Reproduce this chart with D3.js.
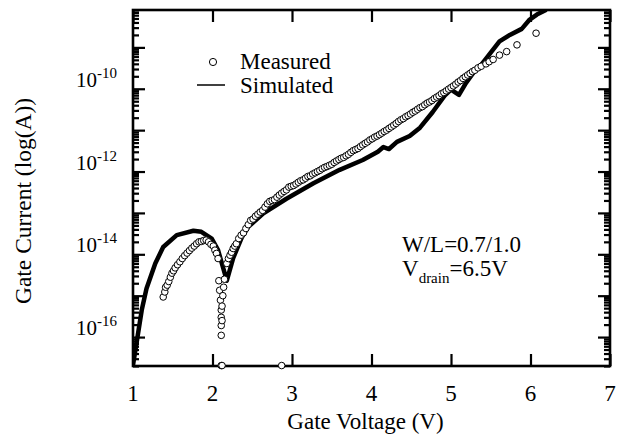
<!DOCTYPE html>
<html>
<head>
<meta charset="utf-8">
<script src="https://cdn.jsdelivr.net/npm/d3@7"></script>
<style>
  html, body { margin: 0; padding: 0; background: #fff; }
  svg { display: block; font-family: "Liberation Serif", "Times New Roman", serif; }
</style>
</head>
<body>
<svg id="chart" width="619" height="437"></svg>
<script>
// ---------------- data ----------------
const xTicks = [1, 2, 3, 4, 5, 6, 7];
const yLabelExps = [-16, -14, -12, -10];

// Simulated gate current (A) vs gate voltage (V)
const simV = [1.00, 1.05, 1.11, 1.17, 1.28, 1.38, 1.55, 1.76, 1.86, 1.99, 2.07, 2.18, 2.26, 2.37, 2.45,
  2.64, 2.93, 3.27, 3.60, 3.89, 4.08, 4.15, 4.22, 4.32, 4.48, 4.61, 4.77, 4.92, 5.00, 5.10, 5.18,
  5.30, 5.38, 5.49, 5.61, 5.74, 5.89, 5.99, 6.08, 6.20];
const simI = [2.1e-17, 8.3e-17, 4.5e-16, 1.5e-15, 6.0e-15, 1.5e-14, 2.9e-14, 3.7e-14, 3.5e-14, 2.4e-14, 1.26e-14, 2.3e-15, 8.1e-15, 2.6e-14, 4.6e-14,
  9.8e-14, 2.2e-13, 5.2e-13, 1.1e-12, 1.9e-12, 3.0e-12, 3.9e-12, 3.5e-12, 5.2e-12, 7.2e-12, 1.15e-11, 2.75e-11, 6.8e-11, 9.5e-11, 7.1e-11, 1.3e-10,
  2.75e-10, 3.8e-10, 7.1e-10, 1.4e-9, 2.0e-9, 2.8e-9, 4.7e-9, 6.2e-9, 8.1e-9];

// Measured gate current (A) vs gate voltage (V)
const measV = [1.38, 1.40, 1.41, 1.43, 1.45, 1.47, 1.49, 1.51, 1.53, 1.56, 1.59, 1.62, 1.65, 1.68, 1.71, 1.74, 1.77,
  1.80, 1.83, 1.86, 1.89, 1.92, 1.95, 1.98, 2.01, 2.03, 2.05, 2.07,
  2.08, 2.09, 2.10, 2.11, 2.11, 2.11, 2.11, 2.12, 2.12, 2.13, 2.14, 2.15, 2.11, 2.12, 2.87,
  2.18, 2.20, 2.22, 2.24, 2.26, 2.28, 2.30, 2.33, 2.36, 2.39, 2.42, 2.45, 2.48, 2.51, 2.54, 2.57,
  2.60, 2.63, 2.66, 2.69, 2.72, 2.75, 2.78, 2.81, 2.84, 2.87, 2.90, 2.93, 2.96, 2.99,
  3.02, 3.05, 3.08, 3.11, 3.14, 3.17, 3.20, 3.23, 3.26, 3.29, 3.32, 3.35, 3.38, 3.41, 3.44, 3.47,
  3.50, 3.53, 3.56, 3.59, 3.62, 3.65, 3.68, 3.71, 3.74, 3.77, 3.80, 3.83, 3.86, 3.89, 3.92, 3.95, 3.98,
  4.01, 4.04, 4.07, 4.10, 4.13, 4.16, 4.19, 4.22, 4.25, 4.28, 4.31, 4.34, 4.37, 4.40, 4.43, 4.46, 4.49,
  4.52, 4.55, 4.58, 4.61, 4.64, 4.67, 4.70, 4.73, 4.76, 4.79, 4.82, 4.85, 4.88, 4.91, 4.94, 4.97,
  5.00, 5.03, 5.06, 5.09, 5.12, 5.15, 5.18, 5.21, 5.24, 5.27, 5.30, 5.34, 5.38, 5.44, 5.48, 5.53,
  5.61, 5.70, 5.83, 6.07];
const measI = [9.3e-16, 1.23e-15, 1.6e-15, 1.8e-15, 2.2e-15, 2.8e-15, 3.5e-15, 4.0e-15, 4.7e-15, 5.6e-15, 6.6e-15, 7.9e-15, 9.3e-15, 1.07e-14, 1.23e-14, 1.41e-14, 1.58e-14,
  1.8e-14, 2.0e-14, 2.05e-14, 2.15e-14, 2.2e-14, 2.0e-14, 1.74e-14, 1.58e-14, 1.26e-14, 1.05e-14, 7.9e-15,
  2.3e-15, 1.35e-15, 7.8e-16, 4.5e-16, 3.0e-16, 1.9e-16, 1.1e-16, 2.5e-16, 5.6e-16, 1.0e-15, 1.6e-15, 2.5e-15, 2.05e-17, 2.05e-17, 2.05e-17,
  6.0e-15, 7.9e-15, 9.5e-15, 1.12e-14, 1.38e-14, 1.58e-14, 1.8e-14, 2.4e-14, 2.9e-14, 3.3e-14, 4.2e-14, 5.2e-14, 6.6e-14, 7.1e-14, 8.3e-14, 9.3e-14,
  1.05e-13, 1.15e-13, 1.38e-13, 1.66e-13, 1.9e-13, 2.0e-13, 2.1e-13, 2.4e-13, 2.7e-13, 3.0e-13, 3.3e-13, 3.6e-13, 4.2e-13, 4.4e-13,
  4.6e-13, 5.0e-13, 5.5e-13, 6.0e-13, 6.3e-13, 6.9e-13, 7.6e-13, 7.9e-13, 8.7e-13, 9.3e-13, 1.0e-12, 1.07e-12, 1.17e-12, 1.26e-12, 1.32e-12, 1.41e-12,
  1.5e-12, 1.66e-12, 1.8e-12, 1.95e-12, 2.1e-12, 2.2e-12, 2.4e-12, 2.6e-12, 2.9e-12, 3.2e-12, 3.4e-12, 3.6e-12, 4.0e-12, 4.4e-12, 4.8e-12, 5.2e-12, 5.8e-12,
  6.2e-12, 6.8e-12, 7.2e-12, 7.8e-12, 8.5e-12, 9.3e-12, 1.0e-11, 1.1e-11, 1.2e-11, 1.32e-11, 1.45e-11, 1.62e-11, 1.78e-11, 1.9e-11, 2.1e-11, 2.25e-11, 2.45e-11,
  2.7e-11, 2.9e-11, 3.2e-11, 3.5e-11, 3.7e-11, 4.1e-11, 4.5e-11, 4.8e-11, 5.2e-11, 5.8e-11, 6.3e-11, 6.8e-11, 7.6e-11, 8.1e-11, 8.9e-11, 9.8e-11,
  1.07e-10, 1.17e-10, 1.29e-10, 1.45e-10, 1.58e-10, 1.78e-10, 1.95e-10, 2.15e-10, 2.35e-10, 2.6e-10, 2.8e-10, 3.2e-10, 3.5e-10, 4.0e-10, 4.5e-10, 5.1e-10,
  6.5e-10, 7.9e-10, 1.15e-9, 2.2e-9];

const legendLabels = ["Measured", "Simulated"];

// ---------------- layout ----------------
const L = 133, R = 610, T = 10, B = 366;
const FONT = 23;
const svg = d3.select("#chart");

const x = d3.scaleLinear().domain([1, 7]).range([L, R]);
const y = d3.scaleLog().domain([2e-17, 8e-9]).range([B, T]);

svg.append("defs").append("clipPath").attr("id", "plotclip")
  .append("rect").attr("x", L).attr("y", T).attr("width", R - L).attr("height", B - T);

// minor / major y tick values
const majorY = d3.range(-16, -8).map(e => Math.pow(10, e));
const minorY = [];
for (let e = -17; e <= -9; e++) {
  for (let m = 2; m <= 9; m++) {
    const v = m * Math.pow(10, e);
    if (v >= 2e-17 && v <= 8e-9) minorY.push(v);
  }
}

function styleAxis(g) {
  g.select(".domain").remove();
  g.selectAll(".tick line").attr("stroke", "#000").attr("stroke-width", 2.2);
  g.selectAll(".tick text").remove();
}

// x axes (bottom & top), inward ticks
svg.append("g").attr("transform", `translate(0,${B})`)
  .call(d3.axisBottom(x).tickValues(xTicks).tickSize(-12)).call(styleAxis);
svg.append("g").attr("transform", `translate(0,${T})`)
  .call(d3.axisTop(x).tickValues(xTicks).tickSize(-12)).call(styleAxis);

// y axes (left & right), inward ticks
svg.append("g").attr("transform", `translate(${L},0)`)
  .call(d3.axisLeft(y).tickValues(majorY).tickSize(-12)).call(styleAxis);
svg.append("g").attr("transform", `translate(${L},0)`)
  .call(d3.axisLeft(y).tickValues(minorY).tickSize(-6)).call(styleAxis);
svg.append("g").attr("transform", `translate(${R},0)`)
  .call(d3.axisRight(y).tickValues(majorY).tickSize(-12)).call(styleAxis);
svg.append("g").attr("transform", `translate(${R},0)`)
  .call(d3.axisRight(y).tickValues(minorY).tickSize(-6)).call(styleAxis);

// frame
svg.append("rect").attr("x", L).attr("y", T).attr("width", R - L).attr("height", B - T)
  .attr("fill", "none").attr("stroke", "#000").attr("stroke-width", 2.6);

// x tick labels
svg.append("g").selectAll("text").data(xTicks).join("text")
  .attr("x", d => x(d)).attr("y", 401)
  .attr("text-anchor", "middle").attr("font-size", FONT).attr("fill", "#000")
  .text(d => d);

// y tick labels 10^e
const yl = svg.append("g").selectAll("text").data(yLabelExps).join("text")
  .attr("x", 117).attr("y", d => y(Math.pow(10, d)) - 2)
  .attr("text-anchor", "end").attr("font-size", 21).attr("fill", "#000");
yl.append("tspan").text("10");
yl.append("tspan").attr("font-size", 15).attr("dy", -9).text(d => String(d));

// axis titles
svg.append("text").attr("x", (L + R) / 2 - 6).attr("y", 429)
  .attr("text-anchor", "middle").attr("font-size", FONT).text("Gate Voltage (V)");
svg.append("text").attr("transform", `translate(31,${201}) rotate(-90)`)
  .attr("text-anchor", "middle").attr("font-size", 23.5).text("Gate Current (log(A))");

// ---------------- marks ----------------
const plot = svg.append("g").attr("clip-path", "url(#plotclip)");

const simData = simV.map((v, i) => [v, simI[i]]);
plot.append("path").datum(simData)
  .attr("fill", "none").attr("stroke", "#000").attr("stroke-width", 4.5)
  .attr("stroke-linejoin", "round")
  .attr("d", d3.line().x(d => x(d[0])).y(d => y(d[1])));

const measData = measV.map((v, i) => [v, measI[i]]);
svg.append("g").selectAll("circle").data(measData).join("circle")
  .attr("cx", d => x(d[0])).attr("cy", d => y(d[1])).attr("r", 3.3)
  .attr("fill", "#fff").attr("stroke", "#000").attr("stroke-width", 1);

// ---------------- legend ----------------
const lg = svg.append("g");
lg.append("circle").attr("cx", 213).attr("cy", 62).attr("r", 3.6)
  .attr("fill", "#fff").attr("stroke", "#000").attr("stroke-width", 1);
lg.append("line").attr("x1", 197).attr("x2", 225).attr("y1", 85).attr("y2", 85)
  .attr("stroke", "#000").attr("stroke-width", 1.5);
lg.selectAll("text").data(legendLabels).join("text")
  .attr("x", 240).attr("y", (d, i) => 69 + i * 23.5)
  .attr("font-size", FONT).text(d => d);

// ---------------- annotation ----------------
svg.append("text").attr("x", 402).attr("y", 252).attr("font-size", FONT).text("W/L=0.7/1.0");
const vt = svg.append("text").attr("x", 402).attr("y", 276).attr("font-size", FONT);
vt.append("tspan").text("V");
vt.append("tspan").attr("font-size", 15).attr("dy", 7).text("drain");
vt.append("tspan").attr("dy", -7).text("=6.5V");
</script>
</body>
</html>
